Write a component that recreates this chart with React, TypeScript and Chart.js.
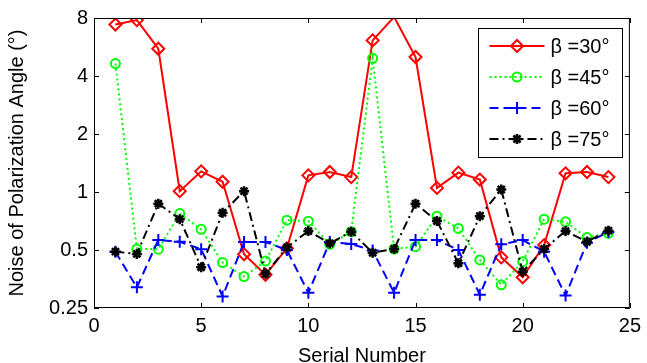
import React, { useEffect, useRef } from "react";
import { Chart, registerables } from "chart.js";

Chart.register(...registerables);

const serials = [1, 2, 3, 4, 5, 6, 7, 8, 9, 10, 11, 12, 13, 14, 15, 16, 17, 18, 19, 20, 21, 22, 23, 24];
const beta30 = [7.4, 7.8, 5.54, 1.01, 1.28, 1.13, 0.475, 0.372, 0.51, 1.22, 1.27, 1.195, 6.12, 8.1, 5.02, 1.05, 1.26, 1.16, 0.458, 0.361, 0.53, 1.25, 1.27, 1.195];
const beta45 = [4.64, 0.506, 0.505, 0.773, 0.64, 0.43, 0.364, 0.438, 0.714, 0.706, 0.535, 0.622, 4.94, 0.506, 0.52, 0.749, 0.647, 0.444, 0.33, 0.435, 0.723, 0.7, 0.58, 0.61];
const beta60 = [0.49, 0.32, 0.563, 0.552, 0.505, 0.287, 0.55, 0.55, 0.5, 0.3, 0.55, 0.537, 0.497, 0.3, 0.563, 0.563, 0.5, 0.293, 0.535, 0.563, 0.49, 0.29, 0.546, 0.62];
const beta75 = [0.49, 0.477, 0.87, 0.723, 0.407, 0.78, 1.01, 0.376, 0.516, 0.627, 0.541, 0.622, 0.484, 0.506, 0.87, 0.707, 0.427, 0.749, 1.03, 0.386, 0.506, 0.627, 0.552, 0.63];

const seriesLabels = ["β =30°", "β =45°", "β =60°", "β =75°"];
const yTickValues = [0.25, 0.5, 1, 2, 4, 8];
const xTickValues = [0, 5, 10, 15, 20, 25];
const xTitle = "Serial Number";
const yTitle = "Noise of Polarization Angle (°)";

const FONT = "'Liberation Sans', Arial, sans-serif";

type Style = { color: string; dash: number[]; marker: string };
const styles: Style[] = [
  { color: "#ff0000", dash: [], marker: "diamond" },
  { color: "#00ff00", dash: [2, 3], marker: "circle" },
  { color: "#0000ff", dash: [9, 5], marker: "cross" },
  { color: "#000000", dash: [9, 4, 2, 4], marker: "star" },
];

function drawMarker(ctx: CanvasRenderingContext2D, kind: string, x: number, y: number, color: string) {
  ctx.save();
  ctx.setLineDash([]);
  ctx.strokeStyle = color;
  ctx.fillStyle = color;
  ctx.lineWidth = 2;
  ctx.beginPath();
  if (kind === "diamond") {
    const r = 6;
    ctx.moveTo(x - r, y);
    ctx.lineTo(x, y - r);
    ctx.lineTo(x + r, y);
    ctx.lineTo(x, y + r);
    ctx.closePath();
    ctx.stroke();
  } else if (kind === "circle") {
    ctx.arc(x, y, 4.5, 0, Math.PI * 2);
    ctx.stroke();
  } else if (kind === "cross") {
    const r = 6;
    ctx.moveTo(x - r, y);
    ctx.lineTo(x + r, y);
    ctx.moveTo(x, y - r);
    ctx.lineTo(x, y + r);
    ctx.stroke();
  } else {
    const r = 5;
    ctx.lineWidth = 2.5;
    ctx.moveTo(x - r, y);
    ctx.lineTo(x + r, y);
    ctx.moveTo(x, y - r);
    ctx.lineTo(x, y + r);
    const d = r * Math.SQRT1_2;
    ctx.moveTo(x - d, y - d);
    ctx.lineTo(x + d, y + d);
    ctx.moveTo(x - d, y + d);
    ctx.lineTo(x + d, y - d);
    ctx.stroke();
  }
  ctx.restore();
}

const frameAndLegend = {
  id: "frameAndLegend",
  afterDraw(chart: any) {
    const ctx: CanvasRenderingContext2D = chart.ctx;
    const { left, right, top, bottom } = chart.chartArea;
    const xs = chart.scales.x;
    const ys = chart.scales.y;
    ctx.save();
    ctx.strokeStyle = "#000";
    ctx.lineWidth = 1;
    ctx.setLineDash([]);
    ctx.beginPath();
    ctx.rect(left + 0.5, top + 0.5, right - left - 1, bottom - top - 1);
    ctx.stroke();
    const tl = 5;
    ctx.beginPath();
    for (const v of xTickValues) {
      const px = Math.round(xs.getPixelForValue(v)) + 0.5;
      ctx.moveTo(px, bottom);
      ctx.lineTo(px, bottom - tl);
      ctx.moveTo(px, top);
      ctx.lineTo(px, top + tl);
    }
    for (const v of yTickValues) {
      const py = Math.round(ys.getPixelForValue(v)) + 0.5;
      ctx.moveTo(left, py);
      ctx.lineTo(left + tl, py);
      ctx.moveTo(right, py);
      ctx.lineTo(right - tl, py);
    }
    ctx.stroke();

    // legend
    const boxW = 144;
    const boxH = 129;
    const bx = Math.round(right - 8 - boxW) + 0.5;
    const by = Math.round(top + 10) + 0.5;
    ctx.fillStyle = "#fff";
    ctx.fillRect(bx, by, boxW, boxH);
    ctx.strokeStyle = "#000";
    ctx.lineWidth = 1;
    ctx.strokeRect(bx, by, boxW, boxH);
    const rowGap = 31;
    for (let i = 0; i < seriesLabels.length; i++) {
      const st = styles[i];
      const ry = by + 17.5 + i * rowGap;
      const x0 = bx + 11;
      const x1 = bx + 66;
      ctx.strokeStyle = st.color;
      ctx.lineWidth = 2;
      ctx.setLineDash(st.dash);
      ctx.beginPath();
      ctx.moveTo(x0, ry);
      ctx.lineTo(x1, ry);
      ctx.stroke();
      drawMarker(ctx, st.marker, (x0 + x1) / 2, ry, st.color);
      ctx.setLineDash([]);
      ctx.fillStyle = "#000";
      ctx.font = `20px ${FONT}`;
      ctx.textAlign = "left";
      ctx.textBaseline = "middle";
      ctx.fillText(seriesLabels[i], bx + 72, ry + 1);
    }
    ctx.restore();
  },
};

const pointStyleFor: Record<string, any> = {
  diamond: "rectRot",
  circle: "circle",
  cross: "cross",
  star: "star",
};
const radiusFor: Record<string, number> = { diamond: 6, circle: 4.5, cross: 6, star: 5 };

export default function App() {
  const ref = useRef<HTMLCanvasElement | null>(null);
  useEffect(() => {
    document.body.style.margin = "0";
    const all = [beta30, beta45, beta60, beta75];
    const datasets = all.map((vals, i) => {
      const st = styles[i];
      return {
        label: seriesLabels[i],
        data: serials.map((s, j) => ({ x: s, y: vals[j] })),
        borderColor: st.color,
        backgroundColor: st.color,
        borderWidth: 2,
        borderDash: st.dash,
        pointStyle: pointStyleFor[st.marker],
        pointRadius: (c: any) => (c.raw && c.raw.y > 8 ? 0 : radiusFor[st.marker]),
        pointBorderWidth: st.marker === "star" ? 2.5 : 2,
        pointBorderColor: st.color,
        pointBackgroundColor: st.marker === "star" ? st.color : "rgba(0,0,0,0)",
        tension: 0,
        fill: false,
        order: 4 - i,
      };
    });
    const chart = new Chart(ref.current as HTMLCanvasElement, {
      type: "line",
      data: { datasets } as any,
      options: {
        animation: false,
        responsive: false,
        maintainAspectRatio: false,
        devicePixelRatio: 1,
        layout: { padding: { left: 0, right: 11, top: 18, bottom: 0 } },
        plugins: { legend: { display: false }, tooltip: { enabled: false } },
        scales: {
          x: {
            type: "linear",
            min: 0,
            max: 25,
            afterBuildTicks: (s: any) => {
              s.ticks = xTickValues.map((v) => ({ value: v }));
            },
            afterFit: (s: any) => {
              s.height = 55;
            },
            ticks: {
              color: "#000",
              font: { size: 20, family: FONT },
              padding: 6,
              maxRotation: 0,
              callback: (v: any) => String(v),
            },
            grid: { display: false, drawTicks: false },
            border: { display: false },
            title: {
              display: true,
              text: xTitle,
              color: "#000",
              font: { size: 20, family: FONT },
              padding: { top: 0, bottom: -5 },
            },
          },
          y: {
            type: "logarithmic",
            min: 0.25,
            max: 8,
            afterBuildTicks: (s: any) => {
              s.ticks = yTickValues.map((v) => ({ value: v }));
            },
            afterFit: (s: any) => {
              s.width = 94;
            },
            ticks: {
              color: "#000",
              font: { size: 20, family: FONT },
              padding: 6,
              autoSkip: false,
              callback: (v: any) => String(v),
            },
            grid: { display: false, drawTicks: false },
            border: { display: false },
            title: {
              display: true,
              text: yTitle,
              color: "#000",
              font: { size: 20, family: FONT },
              padding: { top: 5, bottom: 0 },
            },
          },
        },
      } as any,
      plugins: [frameAndLegend],
    });
    return () => chart.destroy();
  }, []);
  return (
    <div style={{ position: "fixed", left: 0, top: 0, width: 647, height: 363, background: "#fff" }}>
      <canvas ref={ref} width={647} height={363} style={{ width: 647, height: 363, display: "block" }} />
    </div>
  );
}
